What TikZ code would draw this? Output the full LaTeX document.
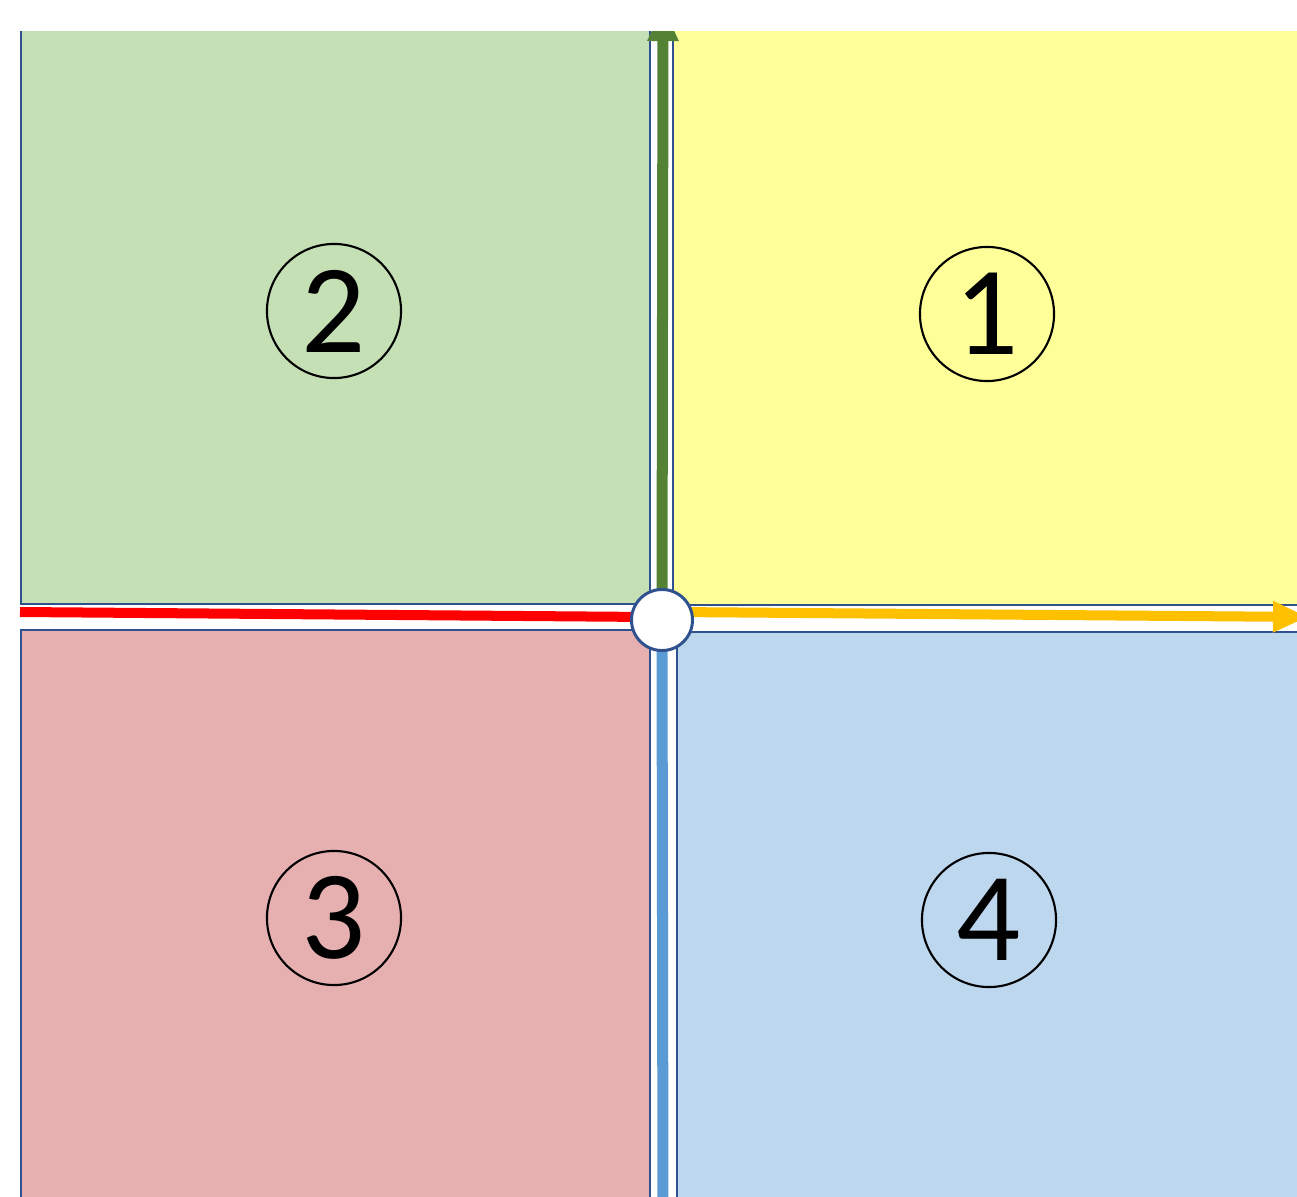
\documentclass[tikz,border=0pt]{standalone}
\usepackage{fontspec}
\newfontfamily\numfont{Carlito}
\usetikzlibrary{arrows.meta}

\definecolor{qgreen}{HTML}{C5E0B4}
\definecolor{qyellow}{HTML}{FFFF99}
\definecolor{qred}{HTML}{E6B0B0}
\definecolor{qblue}{HTML}{BDD7EE}
\definecolor{edgeblue}{HTML}{2F528F}
\definecolor{agreen}{HTML}{548235}
\definecolor{aorange}{HTML}{FFC000}
\definecolor{ablue}{HTML}{5B9BD5}

\tikzset{
  quad/.style={draw=edgeblue,line width=0.5pt},
  num/.style={circle,draw,line width=0.6pt,minimum size=1.34cm,inner sep=0pt,
    font=\numfont\fontsize{36}{36}\selectfont},
  axis/.style={line width=0.11cm},
  tip/.style={-{Triangle[length=0.35cm,width=0.29cm]}}
}

\begin{document}
\begin{tikzpicture}[x=0.01cm,y=-0.01cm]

\useasboundingbox (0,0) rectangle (1297,1197);
\fill[white] (0,0) rectangle (1297,1197);
\clip (0,32) rectangle (1297,1197);

% Quadrants
\fill[qgreen,quad] (21,20) rectangle (650,604);
\fill[qyellow,quad] (673,20) rectangle (1320,605);
\fill[qred,quad] (21,630) rectangle (650,1220);
\fill[qblue,quad] (677,632) rectangle (1320,1220);

% Axes
\coordinate (o) at (662,620);
\coordinate (ytop) at (663,6);
\coordinate (ybot) at (663,1220);
\coordinate (xleft) at (20,612);
\coordinate (xlin) at (650,617);
\coordinate (xrin) at (675,612);
\coordinate (xright) at (1308,617);

\draw[axis,agreen,tip] (o) -- (ytop);
\draw[axis,ablue] (o) -- (ybot);
\draw[line width=0.1cm,red] (xleft) -- (xlin);
\draw[line width=0.1cm,aorange,tip] (xrin) -- (xright);

% Origin
\node[circle,fill=white,draw=edgeblue,line width=0.85pt,minimum size=0.61cm,inner sep=0pt] (ctr) at (o) {};

% Quadrant numbers
\node[num] (q1) at (987,314) {1};
\node[num] (q2) at (334,311) {2};
\node[num] (q3) at (334,918) {3};
\node[num] (q4) at (989,920) {4};

\end{tikzpicture}
\end{document}
